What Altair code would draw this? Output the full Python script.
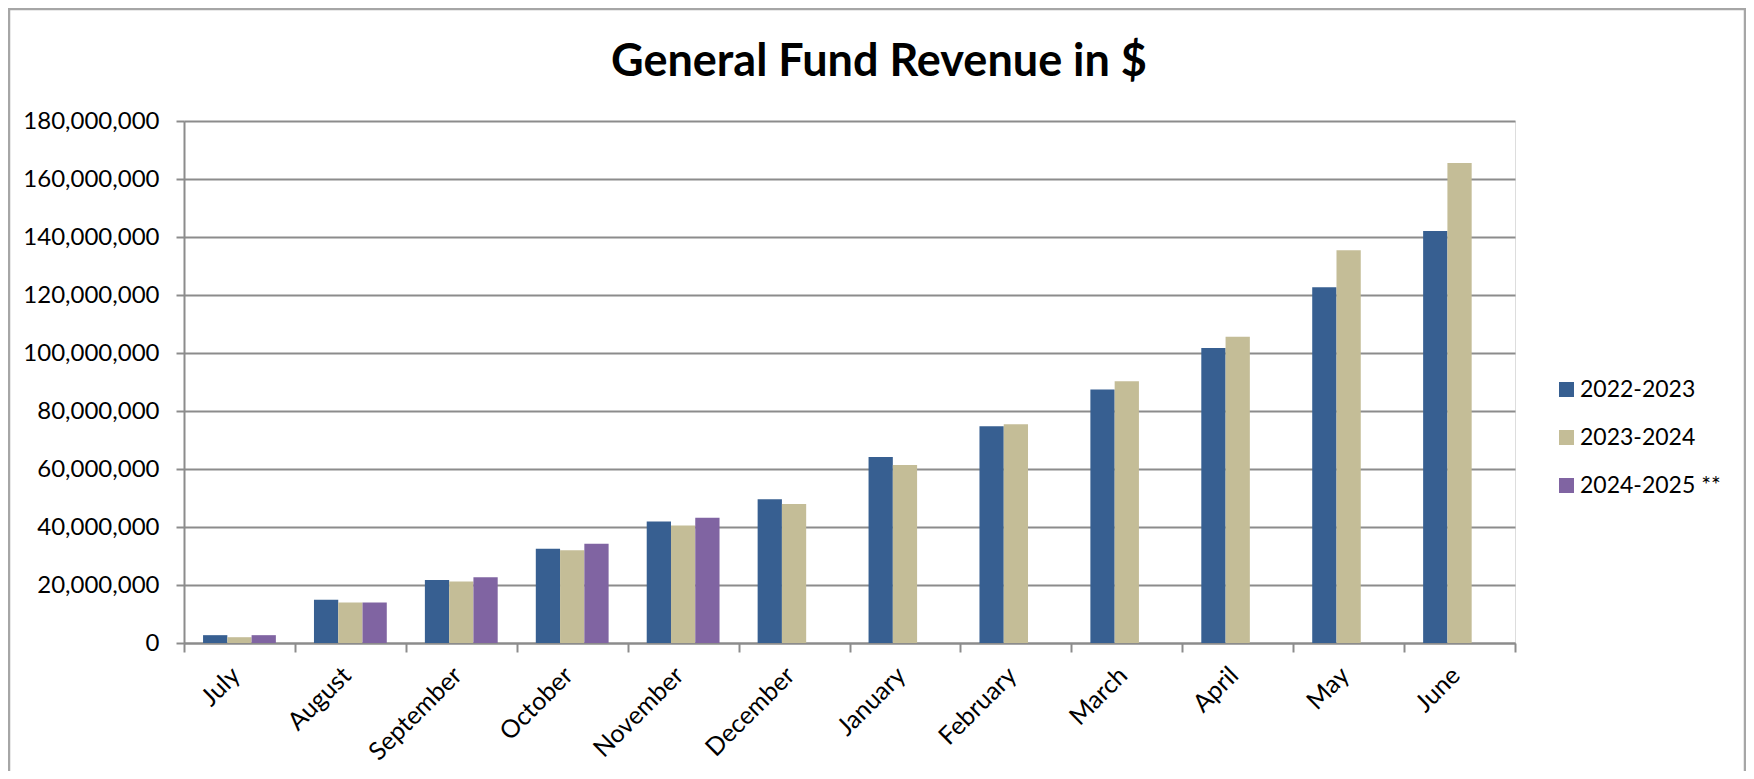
import altair as alt
import pandas as pd

months = ["July", "August", "September", "October", "November", "December",
          "January", "February", "March", "April", "May", "June"]
series = ["2022-2023", "2023-2024", "2024-2025 **"]
fy2023 = [2.7e6, 14.9e6, 21.7e6, 32.5e6, 41.9e6, 49.6e6, 64.1e6, 74.7e6, 87.4e6, 101.7e6, 122.7e6, 142.1e6]
fy2024 = [2.0e6, 14.0e6, 21.2e6, 32.0e6, 40.5e6, 47.9e6, 61.4e6, 75.4e6, 90.3e6, 105.6e6, 135.4e6, 165.5e6]
fy2025 = [2.7e6, 14.0e6, 22.7e6, 34.2e6, 43.2e6, None, None, None, None, None, None, None]
colors = ["#375F91", "#C4BD97", "#8064A2"]
y_ticks = [0, 20e6, 40e6, 60e6, 80e6, 100e6, 120e6, 140e6, 160e6, 180e6]
title_text = "General Fund Revenue in $"

rows = []
for s, vals in zip(series, [fy2023, fy2024, fy2025]):
    for m, v in zip(months, vals):
        if v is not None:
            rows.append({"month": m, "series": s, "value": v})
df = pd.DataFrame(rows)

FONT = "Lato"
GRAY = "#8C8C8C"

bars = alt.Chart(df).mark_bar().encode(
    x=alt.X("month:N", sort=months,
            scale=alt.Scale(paddingInner=0, paddingOuter=0),
            axis=alt.Axis(title=None, labelAngle=-45, labelAlign="right",
                          labelBaseline="middle", labelOffset=-4, labelPadding=19,
                          tickBand="extent", tickSize=9, tickWidth=2,
                          tickColor=GRAY, domainColor=GRAY, domainWidth=2,
                          labelFontSize=25, labelFont=FONT, labelColor="black",
                          grid=False)),
    xOffset=alt.XOffset("series:N", sort=series,
                        scale=alt.Scale(domain=series, paddingInner=0, paddingOuter=0.785)),
    y=alt.Y("value:Q",
            scale=alt.Scale(domain=[0, 180e6], nice=False),
            axis=alt.Axis(title=None, values=y_ticks, format=",d",
                          tickSize=8, tickWidth=2, tickColor=GRAY,
                          domainColor=GRAY, domainWidth=2,
                          gridColor=GRAY, gridWidth=2,
                          labelFontSize=24, labelFont=FONT, labelColor="black",
                          labelPadding=17)),
    color=alt.Color("series:N",
                    scale=alt.Scale(domain=series, range=colors),
                    legend=alt.Legend(title=None, orient="none", legendX=1371, legendY=257,
                                      symbolType="square", symbolSize=225,
                                      symbolStrokeWidth=0, labelOffset=2,
                                      labelFontSize=23, labelFont=FONT, labelColor="black",
                                      rowPadding=24, padding=0)),
)

frame = alt.Chart(alt.Data(values=[{"f": 1}])).mark_rect(
    fill="transparent", stroke="#A6A6A6", strokeWidth=2.5
).encode(
    x=alt.value(-175), x2=alt.value(1561), y=alt.value(-112), y2=alt.value(700)
)

title = alt.Chart(alt.Data(values=[{"t": title_text}])).mark_text(
    font=FONT, fontSize=45, fontWeight="bold", color="black",
    align="center", baseline="alphabetic"
).encode(
    text="t:N", x=alt.value(695), y=alt.value(-45)
)

chart = alt.layer(frame, title, bars).properties(
    width=1331, height=522,
    padding={"left": 176, "top": 113, "right": 231, "bottom": 128},
    autosize=alt.AutoSizeParams(type="none"),
).configure_view(strokeWidth=0).configure(background="white")

chart.save("out.html", embed_options={"renderer": "svg", "actions": False})
